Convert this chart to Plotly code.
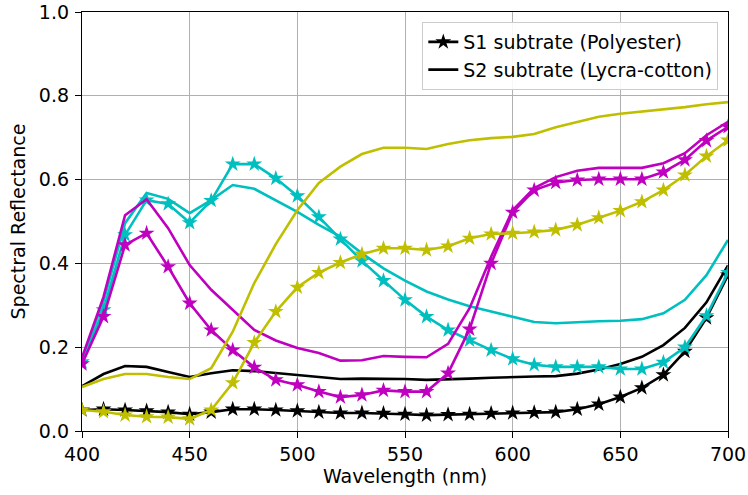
import plotly.graph_objects as go

wavelength = list(range(400, 701, 10))

# S1 (Polyester) - starred lines
s1_black = [0.05, 0.052, 0.05, 0.048, 0.045, 0.04, 0.045, 0.052, 0.052, 0.05, 0.048,
            0.045, 0.043, 0.043, 0.042, 0.04, 0.038, 0.039, 0.04, 0.042, 0.043,
            0.044, 0.045, 0.052, 0.064, 0.081, 0.103, 0.134, 0.19, 0.27, 0.372]
s1_cyan = [0.165, 0.289, 0.468, 0.551, 0.542, 0.497, 0.55, 0.637, 0.637, 0.603, 0.561,
           0.511, 0.458, 0.406, 0.359, 0.313, 0.273, 0.241, 0.217, 0.193, 0.172,
           0.158, 0.153, 0.153, 0.153, 0.148, 0.148, 0.164, 0.2, 0.275, 0.378]
s1_magenta = [0.16, 0.273, 0.444, 0.472, 0.392, 0.305, 0.241, 0.193, 0.152, 0.122, 0.11,
              0.094, 0.081, 0.086, 0.097, 0.094, 0.094, 0.138, 0.243, 0.4, 0.522,
              0.575, 0.593, 0.599, 0.601, 0.601, 0.601, 0.618, 0.647, 0.693, 0.726]
s1_yellow = [0.05, 0.046, 0.038, 0.034, 0.033, 0.029, 0.05, 0.115, 0.211, 0.285, 0.343,
             0.378, 0.402, 0.422, 0.436, 0.436, 0.432, 0.441, 0.46, 0.47, 0.472,
             0.475, 0.48, 0.492, 0.509, 0.526, 0.547, 0.575, 0.611, 0.656, 0.694]

# S2 (Lycra-cotton) - plain lines
s2_black = [0.107, 0.136, 0.155, 0.153, 0.141, 0.129, 0.138, 0.145, 0.143, 0.138, 0.133,
            0.128, 0.124, 0.125, 0.125, 0.124, 0.122, 0.123, 0.125, 0.127, 0.129,
            0.13, 0.131, 0.137, 0.147, 0.16, 0.177, 0.205, 0.246, 0.307, 0.395]
s2_cyan = [0.17, 0.31, 0.496, 0.568, 0.554, 0.52, 0.551, 0.587, 0.578, 0.551, 0.523,
           0.492, 0.464, 0.424, 0.388, 0.359, 0.333, 0.314, 0.298, 0.285, 0.273,
           0.26, 0.257, 0.26, 0.262, 0.263, 0.267, 0.281, 0.313, 0.372, 0.456]
s2_magenta = [0.175, 0.32, 0.515, 0.553, 0.484, 0.396, 0.337, 0.289, 0.241, 0.216, 0.198,
              0.186, 0.168, 0.169, 0.179, 0.177, 0.176, 0.208, 0.293, 0.416, 0.527,
              0.58, 0.606, 0.621, 0.628, 0.628, 0.628, 0.639, 0.663, 0.706, 0.738]
s2_yellow = [0.105, 0.124, 0.136, 0.136, 0.129, 0.124, 0.15, 0.237, 0.353, 0.446, 0.527,
             0.592, 0.631, 0.661, 0.676, 0.676, 0.673, 0.685, 0.694, 0.699, 0.702,
             0.709, 0.725, 0.738, 0.75, 0.757, 0.762, 0.768, 0.773, 0.78, 0.785]

x_ticks = [400, 450, 500, 550, 600, 650, 700]
y_ticks = [0, 0.2, 0.4, 0.6, 0.8, 1.0]
y_tick_labels = ["0.0", "0.2", "0.4", "0.6", "0.8", "1.0"]
legend_labels = ["S1 subtrate (Polyester)", "S2 subtrate (Lycra-cotton)"]

colors = {"k": "#000000", "c": "#00bfbf", "m": "#bf00bf", "y": "#bfbf00"}

fig = go.Figure()

star = dict(symbol="star", size=12, line=dict(width=0))

for col, s1, s2 in [("k", s1_black, s2_black), ("c", s1_cyan, s2_cyan),
                    ("m", s1_magenta, s2_magenta), ("y", s1_yellow, s2_yellow)]:
    fig.add_trace(go.Scatter(x=wavelength, y=s2, mode="lines",
                             line=dict(color=colors[col], width=2.6),
                             showlegend=False, hoverinfo="skip"))
    fig.add_trace(go.Scatter(x=wavelength, y=s1, mode="lines+markers",
                             line=dict(color=colors[col], width=2.6),
                             marker=dict(color=colors[col], **star),
                             showlegend=False, hoverinfo="skip"))

# legend entries
fig.add_trace(go.Scatter(x=[None], y=[None], mode="lines+markers", name=legend_labels[0],
                         line=dict(color="black", width=2.6),
                         marker=dict(color="black", **star)))
fig.add_trace(go.Scatter(x=[None], y=[None], mode="lines", name=legend_labels[1],
                         line=dict(color="black", width=2.6)))

axis_common = dict(showline=True, linecolor="black", linewidth=1.3, mirror=True,
                   ticks="outside", ticklen=6, tickwidth=1.3, tickcolor="black",
                   showgrid=True, gridcolor="#b0b0b0", gridwidth=1.4, zeroline=False,
                   automargin=False, ticklabeloverflow="allow",
                   tickfont=dict(size=19, color="black"))

fig.update_layout(
    width=748, height=495,
    margin=dict(l=82, r=20, t=12, b=64),
    paper_bgcolor="white", plot_bgcolor="white",
    font=dict(family="DejaVu Sans", size=19, color="black"),
    xaxis=dict(range=[400, 700], tickvals=x_ticks,
               title=dict(text="Wavelength (nm)", font=dict(size=19), standoff=4),
               **axis_common),
    yaxis=dict(range=[0, 1.0], tickvals=y_ticks, ticktext=y_tick_labels,
               ticklabelstandoff=2,
               title=dict(text="Spectral Reflectance", font=dict(size=19), standoff=8),
               **axis_common),
    legend=dict(x=0.985, y=0.976, xanchor="right", yanchor="top",
                bgcolor="rgba(255,255,255,0.9)", bordercolor="#cccccc", borderwidth=1,
                font=dict(size=19), itemwidth=30, tracegroupgap=0),
)

# remove the default 8px page margin so the figure sits at the window's corner
fig.write_html("out.html",
               config={"displayModeBar": False},
               post_script="document.body.style.margin='0';document.body.style.overflow='hidden';")
